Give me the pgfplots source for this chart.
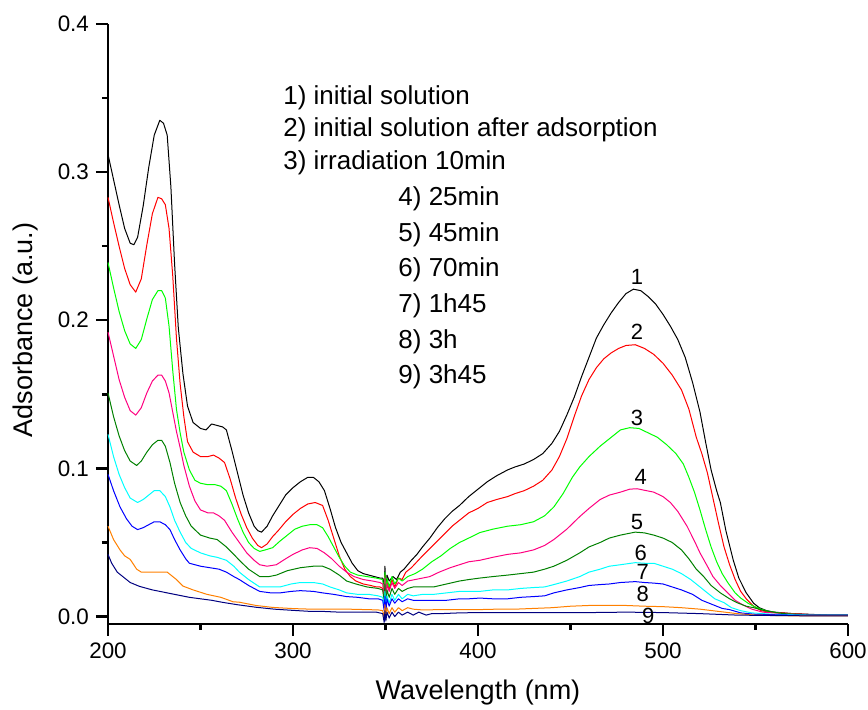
\documentclass[border=0pt]{standalone}
\usepackage{fontspec}
\setmainfont{Liberation Sans}
\usepackage{pgfplots}
\pgfplotsset{compat=1.18}

\definecolor{cBlack}{RGB}{0,0,0}
\definecolor{cRed}{RGB}{255,0,0}
\definecolor{cGreen}{RGB}{0,255,0}
\definecolor{cPink}{RGB}{255,0,128}
\definecolor{cDkGreen}{RGB}{0,128,0}
\definecolor{cCyan}{RGB}{0,255,255}
\definecolor{cBlue}{RGB}{0,0,255}
\definecolor{cOrange}{RGB}{255,128,0}
\definecolor{cNavy}{RGB}{0,0,128}

\begin{document}
\begin{tikzpicture}
% fixed page frame (1 px of the reference = 0.5pt)
\useasboundingbox (-54pt,-43pt) rectangle (380pt,312pt);
\begin{axis}[
  scale only axis,
  width=370pt, height=300pt,
  xmin=200, xmax=600,
  ymin=-0.005, ymax=0.4,
  axis x line*=bottom, axis y line*=left,
  axis line style={line width=1.4pt},
  every tick/.style={line width=1.2pt, black},
  tick align=outside,
  major tick length=6pt, minor tick length=3pt,
  xtick={200,300,400,500,600},
  ytick={0,0.1,0.2,0.3,0.4},
  minor x tick num=1, minor y tick num=1,
  /pgf/number format/assume math mode=true,
  yticklabel style={/pgf/number format/.cd, fixed, fixed zerofill, precision=1},
  xticklabel style={/pgf/number format/.cd, set thousands separator={}},
  tick label style={font=\fontsize{11.2}{13}\selectfont},
  label style={font=\fontsize{13.5}{16}\selectfont},
  xlabel={Wavelength (nm)},
  ylabel={Adsorbance (a.u.)},
  xlabel style={at={(axis description cs:0.5,-0.115)}, anchor=center},
  ylabel style={at={(axis description cs:-0.112,0.49)}, anchor=center},
  every axis plot/.append style={line width=0.5pt, line join=round},
  clip=false,
]
% 1) initial solution
\addplot[cBlack] coordinates {
(200,0.312)(203,0.295)(206,0.278)(209,0.262)(212,0.252)(214,0.251)(216,0.256)(219,0.277)(222,0.303)(225,0.325)(228,0.335)(230,0.333)(232,0.325)(234,0.290)(236,0.238)(238,0.195)(240.5,0.164)(243,0.142)(246,0.131)(250,0.127)(253,0.126)(256,0.130)(259,0.129)(262,0.128)(264,0.126)(267,0.112)(270,0.097)(273,0.082)(276,0.070)(279,0.061)(281,0.058)(283,0.057)(286,0.061)(289,0.068)(292,0.074)(296,0.082)(300,0.087)(304,0.091)(308,0.094)(311,0.094)(314,0.091)(317,0.085)(320,0.073)(323,0.060)(326,0.050)(329,0.043)(332,0.036)(335,0.031)(338,0.029)(341,0.028)(344,0.027)(347,0.026)(348.5,0.026)(349.3,0.020)(349.7,0.034)(350.2,0.015)(350.8,0.028)(352,0.024)(354,0.027)(356,0.025)(358,0.030)(360,0.032)(362,0.035)(364,0.038)(367,0.042)(370,0.047)(374,0.053)(378,0.060)(382,0.066)(386,0.071)(390,0.075)(395,0.081)(400,0.086)(405,0.091)(410,0.095)(416,0.099)(420,0.101)(425,0.103)(430,0.106)(435,0.110)(440,0.117)(444,0.125)(448,0.136)(452,0.148)(456,0.162)(460,0.175)(464,0.188)(468,0.197)(472,0.205)(476,0.212)(480,0.218)(484,0.221)(488,0.220)(492,0.216)(496,0.211)(500,0.204)(504,0.196)(508,0.187)(512,0.175)(516,0.158)(520,0.138)(523,0.118)(526,0.099)(529,0.085)(531,0.077)(534,0.058)(538,0.038)(541,0.026)(545,0.016)(549,0.009)(552,0.006)(556,0.004)(560,0.003)(570,0.002)(580,0.0015)(590,0.001)(600,0.001)
};
% 2) after adsorption
\addplot[cRed] coordinates {
(200,0.283)(203,0.266)(206,0.250)(209,0.235)(212,0.224)(215,0.219)(218,0.228)(221,0.251)(224,0.272)(227,0.283)(229,0.282)(231,0.278)(233,0.262)(235,0.230)(237,0.188)(239,0.157)(241,0.135)(243,0.118)(246,0.111)(250,0.108)(254,0.108)(257,0.109)(260,0.107)(263,0.104)(266,0.093)(269,0.080)(272,0.069)(275,0.060)(278,0.053)(281,0.048)(283,0.0465)(286,0.049)(289,0.054)(292,0.058)(296,0.064)(300,0.069)(304,0.073)(308,0.076)(312,0.077)(316,0.075)(319,0.065)(322,0.053)(325,0.041)(328,0.032)(331,0.027)(334,0.024)(338,0.022)(342,0.021)(345,0.020)(347,0.020)(348.5,0.019)(349.3,0.012)(349.7,0.028)(350.2,0.010)(350.8,0.024)(352,0.018)(353.5,0.025)(355,0.020)(357,0.026)(359,0.025)(361,0.030)(364,0.033)(367,0.037)(370,0.041)(374,0.046)(378,0.051)(382,0.056)(386,0.061)(390,0.065)(395,0.070)(400,0.073)(405,0.077)(410,0.079)(416,0.081)(420,0.083)(425,0.085)(430,0.088)(435,0.092)(440,0.099)(444,0.108)(448,0.120)(452,0.135)(456,0.149)(460,0.160)(464,0.168)(468,0.174)(472,0.178)(476,0.181)(480,0.183)(485,0.1835)(490,0.181)(495,0.177)(500,0.171)(505,0.163)(510,0.153)(514,0.140)(518,0.121)(521,0.110)(524,0.097)(527,0.080)(530,0.063)(533,0.047)(536,0.035)(539,0.025)(542,0.017)(545,0.012)(549,0.007)(553,0.004)(558,0.003)(570,0.002)(585,0.001)(600,0.001)
};
% 3) irradiation 10 min
\addplot[cGreen] coordinates {
(200,0.239)(203,0.222)(206,0.206)(209,0.193)(212,0.184)(215,0.181)(218,0.187)(221,0.201)(224,0.214)(227,0.220)(229,0.220)(231,0.215)(233,0.196)(235,0.166)(237,0.140)(239,0.124)(241,0.111)(244,0.099)(247,0.092)(250,0.090)(254,0.089)(258,0.089)(261,0.088)(264,0.085)(267,0.076)(270,0.066)(273,0.057)(276,0.050)(279,0.046)(282,0.044)(285,0.045)(289,0.0465)(293,0.051)(297,0.055)(301,0.059)(305,0.061)(309,0.062)(313,0.062)(316,0.060)(319,0.054)(322,0.047)(325,0.040)(328,0.034)(331,0.030)(335,0.028)(340,0.027)(345,0.026)(348.5,0.025)(349.3,0.016)(349.7,0.030)(350.2,0.013)(350.8,0.026)(352,0.020)(353.5,0.027)(355,0.022)(357,0.026)(359,0.024)(362,0.027)(366,0.029)(370,0.032)(375,0.037)(380,0.041)(385,0.046)(390,0.050)(395,0.053)(401,0.0567)(408,0.059)(416,0.061)(423,0.062)(430,0.064)(436,0.068)(441,0.074)(446,0.083)(451,0.094)(455,0.101)(460,0.108)(466,0.115)(471,0.120)(477,0.126)(482,0.1275)(487,0.127)(492,0.124)(497,0.121)(502,0.116)(507,0.110)(511,0.103)(514,0.094)(517,0.084)(520,0.072)(523,0.059)(526,0.047)(529,0.037)(532,0.029)(535,0.023)(539,0.016)(542,0.0125)(546,0.009)(549,0.007)(553,0.005)(557,0.0035)(565,0.002)(580,0.001)(600,0.001)
};
% 4) 25 min
\addplot[cPink] coordinates {
(200,0.192)(203,0.176)(206,0.160)(209,0.148)(212,0.139)(215,0.136)(218,0.141)(221,0.151)(224,0.159)(227,0.163)(229,0.163)(231,0.159)(233,0.151)(235,0.138)(237,0.125)(239,0.114)(241,0.102)(244,0.088)(247,0.078)(250,0.072)(254,0.070)(257,0.070)(260,0.068)(263,0.065)(267,0.057)(271,0.050)(275,0.043)(279,0.038)(282,0.035)(286,0.034)(291,0.035)(296,0.039)(300,0.042)(305,0.045)(309,0.0465)(313,0.046)(317,0.043)(321,0.039)(325,0.034)(329,0.030)(333,0.027)(338,0.025)(343,0.024)(347,0.023)(348.5,0.022)(349.3,0.013)(349.7,0.026)(350.2,0.009)(350.8,0.022)(352,0.017)(353.5,0.023)(355,0.019)(357,0.023)(359,0.021)(362,0.024)(366,0.025)(370,0.026)(374,0.027)(379,0.030)(385,0.033)(390,0.035)(395,0.037)(401,0.038)(408,0.040)(416,0.042)(423,0.043)(430,0.045)(436,0.048)(441,0.052)(448,0.059)(455,0.0675)(460,0.073)(466,0.079)(471,0.082)(477,0.084)(482,0.086)(486,0.0863)(491,0.085)(495,0.084)(500,0.081)(504,0.077)(508,0.071)(513,0.061)(517,0.051)(520,0.043)(524,0.034)(527,0.027)(531,0.021)(535,0.016)(539,0.011)(543,0.008)(548,0.005)(554,0.003)(565,0.002)(580,0.001)(600,0.001)
};
% 5) 45 min
\addplot[cDkGreen] coordinates {
(200,0.151)(203,0.135)(206,0.122)(209,0.112)(212,0.105)(215.5,0.102)(218,0.105)(221,0.111)(224,0.116)(227,0.119)(229,0.119)(231,0.115)(233.5,0.104)(236,0.090)(239,0.077)(242,0.068)(245,0.061)(250,0.055)(255,0.053)(259,0.052)(264,0.047)(268,0.042)(271,0.038)(276,0.032)(282,0.027)(287,0.027)(291,0.028)(297,0.031)(304,0.033)(311,0.034)(316,0.034)(320,0.032)(325,0.028)(329,0.024)(334,0.022)(340,0.020)(346,0.019)(348.5,0.018)(349.3,0.010)(349.7,0.022)(350.2,0.006)(350.8,0.018)(352,0.013)(353.5,0.019)(355,0.015)(357,0.019)(359,0.017)(362,0.019)(365,0.020)(370,0.020)(376,0.020)(383,0.022)(390,0.024)(395,0.025)(401,0.026)(408,0.027)(416,0.028)(423,0.029)(430,0.030)(436,0.032)(441,0.034)(448,0.038)(455,0.043)(460,0.047)(466,0.050)(471,0.053)(477,0.055)(485,0.057)(490,0.0565)(495,0.055)(500,0.053)(505,0.050)(510,0.045)(514,0.039)(518,0.032)(522,0.027)(526,0.021)(531,0.016)(536,0.012)(540,0.0094)(545,0.007)(549,0.006)(555,0.004)(565,0.002)(580,0.001)(600,0.001)
};
% 6) 70 min
\addplot[cCyan] coordinates {
(200,0.123)(203,0.108)(206,0.096)(209,0.087)(212,0.080)(216,0.077)(219,0.079)(222,0.082)(225,0.085)(228,0.085)(231,0.081)(233.5,0.074)(236,0.065)(239,0.057)(242,0.050)(245,0.046)(250,0.043)(255,0.041)(259,0.040)(264,0.038)(268,0.034)(271,0.030)(276,0.025)(282,0.020)(288,0.020)(293,0.020)(299,0.022)(304,0.023)(311,0.023)(316,0.022)(320,0.020)(325,0.018)(329,0.016)(335,0.015)(341,0.015)(346,0.014)(348.5,0.013)(349.3,0.006)(349.7,0.017)(350.2,0.004)(350.8,0.014)(352,0.009)(353.5,0.015)(355,0.011)(357,0.015)(359,0.012)(362,0.015)(365,0.014)(370,0.015)(376,0.015)(383,0.016)(390,0.017)(395,0.017)(401,0.017)(408,0.018)(416,0.018)(423,0.019)(430,0.0196)(436,0.020)(441,0.0216)(448,0.024)(455,0.027)(460,0.030)(466,0.032)(471,0.034)(477,0.035)(485,0.0364)(490,0.036)(495,0.036)(500,0.034)(505,0.032)(510,0.029)(515,0.025)(520,0.020)(524,0.016)(528,0.012)(533,0.0094)(537,0.006)(542,0.004)(548,0.0025)(560,0.0015)(580,0.001)(600,0.001)
};
% 7) 1h45
\addplot[cBlue] coordinates {
(200,0.096)(203,0.085)(206.5,0.074)(210,0.066)(213,0.061)(216,0.0587)(219,0.060)(222,0.062)(225,0.064)(228,0.064)(231,0.062)(233.5,0.0587)(236,0.052)(239,0.045)(242,0.039)(244,0.036)(250,0.034)(255,0.033)(260,0.032)(264,0.030)(268,0.027)(271,0.025)(276,0.021)(282,0.017)(288,0.016)(293,0.016)(299,0.017)(304,0.0175)(311,0.017)(316,0.016)(322,0.015)(329,0.0135)(335,0.013)(341,0.012)(346,0.012)(348.5,0.011)(349.3,0.004)(349.7,0.014)(350.2,0.002)(350.8,0.012)(352,0.007)(353.5,0.012)(355,0.009)(357,0.012)(359,0.010)(362,0.012)(365,0.011)(370,0.011)(376,0.011)(383,0.011)(390,0.012)(395,0.012)(401,0.0125)(408,0.012)(416,0.012)(423,0.013)(430,0.0135)(436,0.014)(441,0.016)(448,0.018)(455,0.0196)(460,0.021)(466,0.0216)(471,0.022)(477,0.023)(485,0.0236)(490,0.023)(495,0.0226)(500,0.022)(505,0.020)(510,0.018)(516,0.015)(521,0.011)(527,0.008)(532,0.0055)(536,0.0047)(542,0.0025)(550,0.0015)(570,0.001)(600,0.001)
};
% 8) 3h
\addplot[cOrange] coordinates {
(200,0.061)(203,0.052)(206.5,0.045)(209,0.041)(212,0.0386)(215.5,0.032)(218,0.030)(222,0.030)(228,0.030)(232,0.030)(237,0.025)(240.5,0.0206)(246,0.018)(253.5,0.015)(261,0.013)(267.6,0.010)(271,0.0097)(280,0.0075)(289,0.0062)(300,0.0054)(310,0.005)(320,0.005)(330,0.005)(340,0.0047)(346,0.0045)(348.5,0.004)(349.3,-0.001)(349.7,0.008)(350.2,-0.002)(350.8,0.006)(352,0.002)(353.5,0.006)(355,0.003)(357,0.006)(359,0.004)(362,0.006)(365,0.005)(370,0.0045)(380,0.0047)(390,0.0047)(400,0.0047)(410,0.005)(420,0.005)(430,0.0055)(440,0.006)(450,0.007)(460,0.0075)(470,0.0075)(480,0.0075)(490,0.007)(500,0.0067)(510,0.006)(520,0.005)(530,0.0035)(540,0.002)(550,0.001)(570,0.0005)(600,0.0005)
};
% 9) 3h45
\addplot[cNavy] coordinates {
(200,0.042)(202,0.036)(205,0.030)(208,0.027)(212,0.023)(217,0.0204)(224,0.018)(232,0.016)(238,0.0145)(244,0.013)(250,0.012)(256,0.011)(262,0.0096)(270,0.008)(280,0.0063)(290,0.005)(300,0.0042)(308,0.0036)(316,0.0035)(325,0.003)(335,0.003)(345,0.003)(348.5,0.002)(349.3,-0.004)(349.7,0.004)(350.2,-0.003)(350.8,0.003)(352,-0.001)(353.5,0.003)(355,0.000)(357,0.003)(359,0.001)(362,0.003)(365,0.001)(368,0.003)(372,0.001)(375,0.002)(380,0.002)(390,0.0025)(400,0.0027)(420,0.0027)(440,0.0027)(460,0.0027)(480,0.003)(500,0.0027)(520,0.002)(540,0.001)(560,0.0007)(580,0.0005)(600,0.0005)
};
% legend text
\begin{scope}[every node/.style={anchor=west, inner sep=0pt, font=\fontsize{13}{15}\selectfont}]
\node at (axis cs:294.6,0.350) {1) initial solution};
\node at (axis cs:294.6,0.3286) {2) initial solution after adsorption};
\node at (axis cs:294.6,0.3064) {3) irradiation 10min};
\node at (axis cs:356.8,0.282) {4) 25min};
\node at (axis cs:356.8,0.2578) {5) 45min};
\node at (axis cs:356.8,0.2342) {6) 70min};
\node at (axis cs:356.8,0.2099) {7) 1h45};
\node at (axis cs:356.8,0.1857) {8) 3h};
\node at (axis cs:356.8,0.162) {9) 3h45};
\end{scope}
% curve numbers
\begin{scope}[every node/.style={inner sep=0pt, font=\fontsize{11}{13}\selectfont}]
\node at (axis cs:486,0.2295) {1};
\node at (axis cs:486,0.192) {2};
\node at (axis cs:486,0.134) {3};
\node at (axis cs:488,0.0946) {4};
\node at (axis cs:486,0.0636) {5};
\node at (axis cs:488,0.043) {6};
\node at (axis cs:489,0.030) {7};
\node at (axis cs:489,0.015) {8};
\node at (axis cs:492,0.0005) {9};
\end{scope}
\end{axis}
\end{tikzpicture}
\end{document}
